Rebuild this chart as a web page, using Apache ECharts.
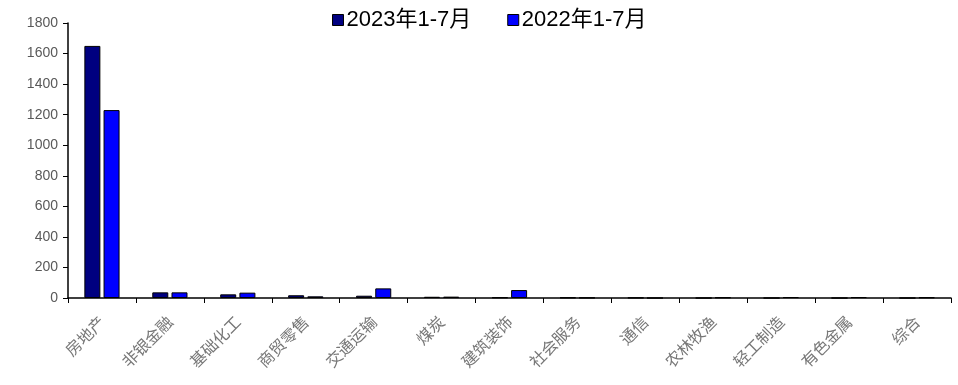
<!DOCTYPE html>
<html>
<head>
<meta charset="utf-8">
<script src="https://cdn.jsdelivr.net/npm/echarts@6/dist/echarts.min.js"></script>
<style>html,body{margin:0;padding:0;background:#fff}#c{width:958px;height:385px}</style>
</head>
<body>
<div id="c"></div>
<script>
var categories = ['房地产','非银金融','基础化工','商贸零售','交通运输','煤炭','建筑装饰','社会服务','通信','农林牧渔','轻工制造','有色金属','综合'];
var series2023 = [1650, 37, 24, 18, 15, 8, 4, 3, 2, 0, 0, 0, 0];
var series2022 = [1230, 37, 35, 11, 63, 9, 52, 2, 0, 4, 6, 6, 4];
var seriesNames = ['2023年1-7月', '2022年1-7月'];

var chart = echarts.init(document.getElementById('c'));
chart.setOption({
  animation: false,
  backgroundColor: '#fff',
  grid: {left: 68, right: 7, top: 23, bottom: 87},
  legend: {
    top: 4, left: 327,
    itemWidth: 11, itemHeight: 11, itemGap: 36,
    icon: 'rect',
    textStyle: {fontFamily: 'Liberation Sans, Arial, Noto Sans CJK SC', fontSize: 22, color: '#000', padding: [0,0,0,-2]},
    data: seriesNames.map(function(n){return {name: n, itemStyle: {borderColor: '#000', borderWidth: 1}};})
  },
  xAxis: {
    type: 'category',
    data: categories,
    axisLine: {lineStyle: {color: '#000', width: 1.5}},
    axisTick: {show: true, length: 5, lineStyle: {color: '#000'}},
    axisLabel: {rotate: 45, interval: 0, margin: 21, fontSize: 16, color: '#777', fontFamily: 'Noto Sans CJK SC'}
  },
  yAxis: {
    type: 'value', min: 0, max: 1800, interval: 200,
    splitLine: {show: false},
    axisLine: {show: true, lineStyle: {color: '#000', width: 1.5}},
    axisTick: {show: true, length: 5, inside: false, lineStyle: {color: '#000'}},
    axisLabel: {fontSize: 14, color: '#595959', fontFamily: 'Liberation Sans, Arial', margin: 10,
      formatter: function(v){ return String(v); }}
  },
  series: [
    {name: seriesNames[0], type: 'bar', data: series2023, barWidth: 16, barGap: '20%',
     itemStyle: {color: '#000080', borderColor: '#000', borderWidth: 1}},
    {name: seriesNames[1], type: 'bar', data: series2022, barWidth: 16,
     itemStyle: {color: '#0000FF', borderColor: '#000', borderWidth: 1}}
  ]
});
</script>
</body>
</html>
